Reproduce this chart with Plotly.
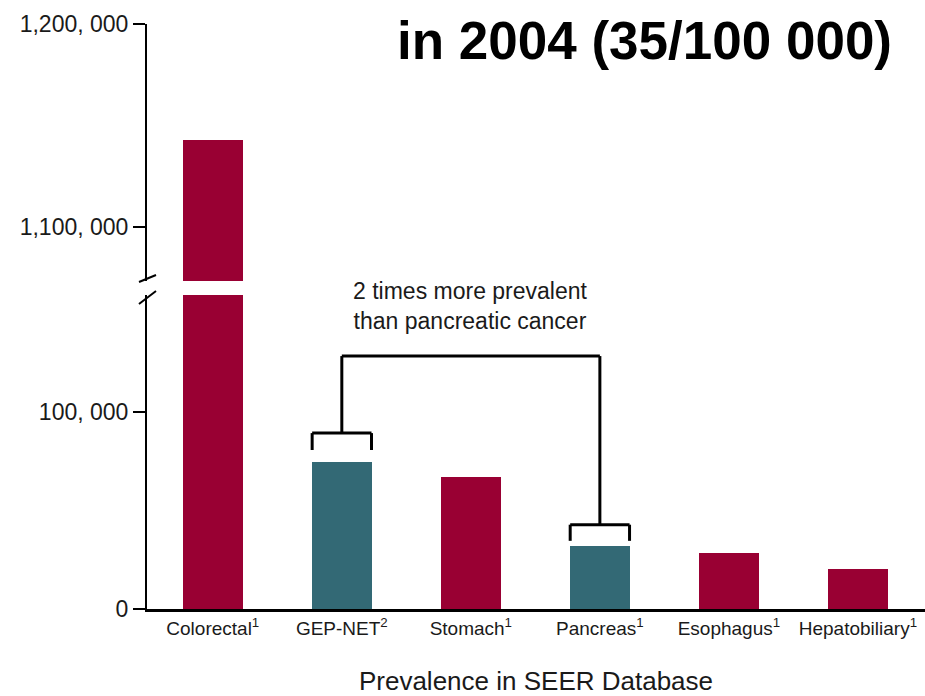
import plotly.graph_objects as go

# Prevalence in SEER database (cases)
categories = ["Colorectal", "GEP-NET", "Stomach", "Pancreas", "Esophagus", "Hepatobiliary"]
footnotes = ["1", "2", "1", "1", "1", "1"]
prevalence = [1143000, 74600, 67200, 32100, 28400, 20300]
is_net = [False, True, False, True, False, False]

lower_ticks = [0, 100000]
lower_ticktext = ["0", "100, 000"]
upper_ticks = [1100000, 1200000]
upper_ticktext = ["1,100, 000", "1,200, 000"]

MAROON = "#990033"
TEAL = "#336975"
FONT = "Liberation Sans, Arial, sans-serif"
INK = "#1a1a1a"

W, H = 925, 696
ML, MB = 147, 87
PH = H - MB  # plot height (top margin 0)


def py(pix):
    """Convert a pixel row (from top) to paper y."""
    return (PH - pix) / PH


def px(pix):
    return (pix - ML) / (W - ML)


colors = [TEAL if n else MAROON for n in is_net]
ticktext = [f"{c}<sup>{f}</sup>" for c, f in zip(categories, footnotes)]

fig = go.Figure()

# lower segment of the broken axis
fig.add_trace(go.Bar(
    x=categories, y=prevalence, marker_color=colors, width=0.465,
    marker_line_width=0, xaxis="x", yaxis="y", showlegend=False,
))
# upper segment: only the colorectal bar reaches it
fig.add_trace(go.Bar(
    x=categories[:1], y=prevalence[:1], marker_color=colors[:1], width=0.465,
    marker_line_width=0, xaxis="x", yaxis="y2", showlegend=False,
))

yaxis_common = dict(
    showline=True, linecolor="black", linewidth=2, ticks="outside", ticklen=12,
    tickwidth=1.5, tickcolor="black", showgrid=False, zeroline=False,
    tickfont=dict(family=FONT, size=23, color=INK), anchor="x", automargin=False,
)

fig.update_layout(
    template="none",
    width=W, height=H,
    margin=dict(l=ML, r=0, t=0, b=MB, autoexpand=False),
    paper_bgcolor="white", plot_bgcolor="white",
    xaxis=dict(
        range=[-0.51, 5.52], showline=True, linecolor="black", linewidth=3,
        tickvals=categories, ticktext=ticktext, ticks="", showgrid=False,
        zeroline=False, automargin=False,
        tickfont=dict(family=FONT, size=19, color=INK),
        title=dict(text="Prevalence in SEER Database",
                   font=dict(family=FONT, size=26, color=INK), standoff=38),
        anchor="y",
    ),
    yaxis=dict(domain=[0, py(295)], range=[0, 159400],
               tickvals=lower_ticks, ticktext=lower_ticktext, **yaxis_common),
    yaxis2=dict(domain=[py(281), py(24)], range=[1073400, 1200000],
                tickvals=upper_ticks, ticktext=upper_ticktext, **yaxis_common),
    bargap=0,
)

# axis-break slashes
for y0, y1 in [(282, 275), (304, 291)]:
    fig.add_shape(type="line", xref="paper", yref="paper",
                  x0=px(139), x1=px(156), y0=py(y0), y1=py(y1),
                  line=dict(color="black", width=2))

# brackets comparing GEP-NET with pancreas
gi, pi = categories.index("GEP-NET"), categories.index("Pancreas")
g_val, p_val = prevalence[gi], prevalence[pi]
half = 0.23
line = dict(color="black", width=3)
g_leg, g_top = g_val + 6100, g_val + 14700
p_leg, p_top = p_val + 2500, p_val + 10700
main_top = 128400
segments = [
    # small bracket over GEP-NET
    (gi - half, g_leg, gi - half, g_top), (gi - half, g_top, gi + half, g_top),
    (gi + half, g_top, gi + half, g_leg),
    # small bracket over pancreas
    (pi - half, p_leg, pi - half, p_top), (pi - half, p_top, pi + half, p_top),
    (pi + half, p_top, pi + half, p_leg),
    # connecting bracket
    (gi, g_top, gi, main_top), (gi, main_top, pi, main_top), (pi, main_top, pi, p_top),
]
for x0, y0, x1, y1 in segments:
    fig.add_shape(type="line", xref="x", yref="y", x0=x0, y0=y0, x1=x1, y1=y1,
                  line=line)

fig.add_annotation(
    x=(gi + pi) / 2, y=153800, xref="x", yref="y", yanchor="middle",
    text="2 times more prevalent<br>than pancreatic cancer", showarrow=False,
    font=dict(family=FONT, size=23, color=INK),
)

fig.add_annotation(
    x=px(644), y=py(40), xref="paper", yref="paper", xanchor="center", yanchor="middle",
    text="<b>in 2004 (35/100 000)</b>", showarrow=False,
    font=dict(family=FONT, size=53, color="black"),
)

fig.write_html("out.html")
